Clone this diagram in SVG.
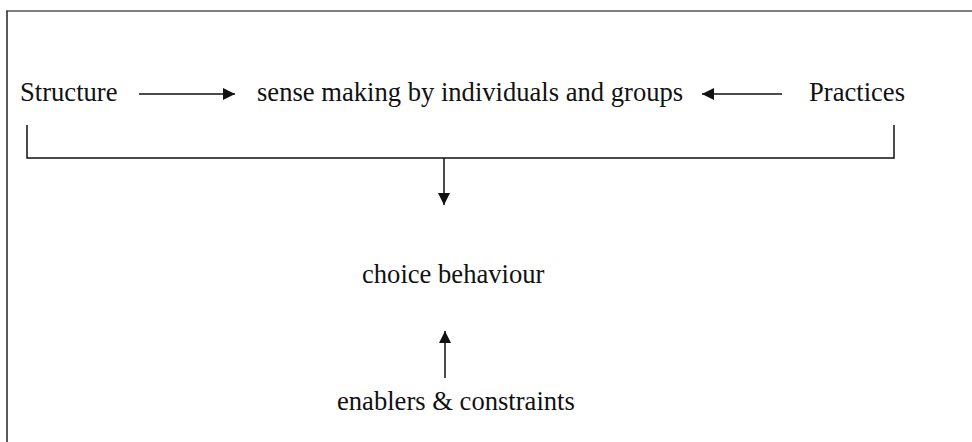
<svg xmlns="http://www.w3.org/2000/svg" width="972" height="442" viewBox="0 0 972 442">
  <defs>
    <style>
      text { font-family: 'Liberation Serif', Tinos, 'Times New Roman', 'DejaVu Serif', serif; font-size: 26.6px; fill: #111; }
      .ln { stroke: #111; stroke-width: 1.5; fill: none; }
      .frame-top { stroke: #555; stroke-width: 1.5; fill: none; }
      .frame-left { stroke: #222; stroke-width: 1.5; fill: none; }
    </style>
    <marker id="head" viewBox="0 0 10 10" refX="10" refY="5" markerWidth="13" markerHeight="12" markerUnits="userSpaceOnUse" orient="auto">
      <path d="M0,0 L10,5 L0,10 Z" fill="#111"/>
    </marker>
  </defs>
  <rect width="972" height="442" fill="#fff"/>

  <!-- frame: top edge and left edge -->
  <line class="frame-top" x1="6" y1="11" x2="972" y2="11"/>
  <line class="frame-left" x1="7" y1="11" x2="7" y2="442"/>

  <g id="structure"><text x="20" y="101">Structure</text></g>
  <g id="sense-making"><text x="257" y="101">sense making by individuals and groups</text></g>
  <g id="practices"><text x="809" y="101">Practices</text></g>
  <g id="choice"><text x="362" y="283">choice behaviour</text></g>
  <g id="enablers"><text x="337" y="410">enablers &amp; constraints</text></g>

  <g id="connectors">
    <line class="ln" x1="139" y1="94" x2="235" y2="94" marker-end="url(#head)"/>
    <line class="ln" x1="782" y1="94" x2="702" y2="94" marker-end="url(#head)"/>
    <path class="ln" d="M27,125 V158 H894 V125"/>
    <line class="ln" x1="444" y1="158" x2="444" y2="205" marker-end="url(#head)"/>
    <line class="ln" x1="445" y1="378" x2="445" y2="331" marker-end="url(#head)"/>
  </g>
</svg>
